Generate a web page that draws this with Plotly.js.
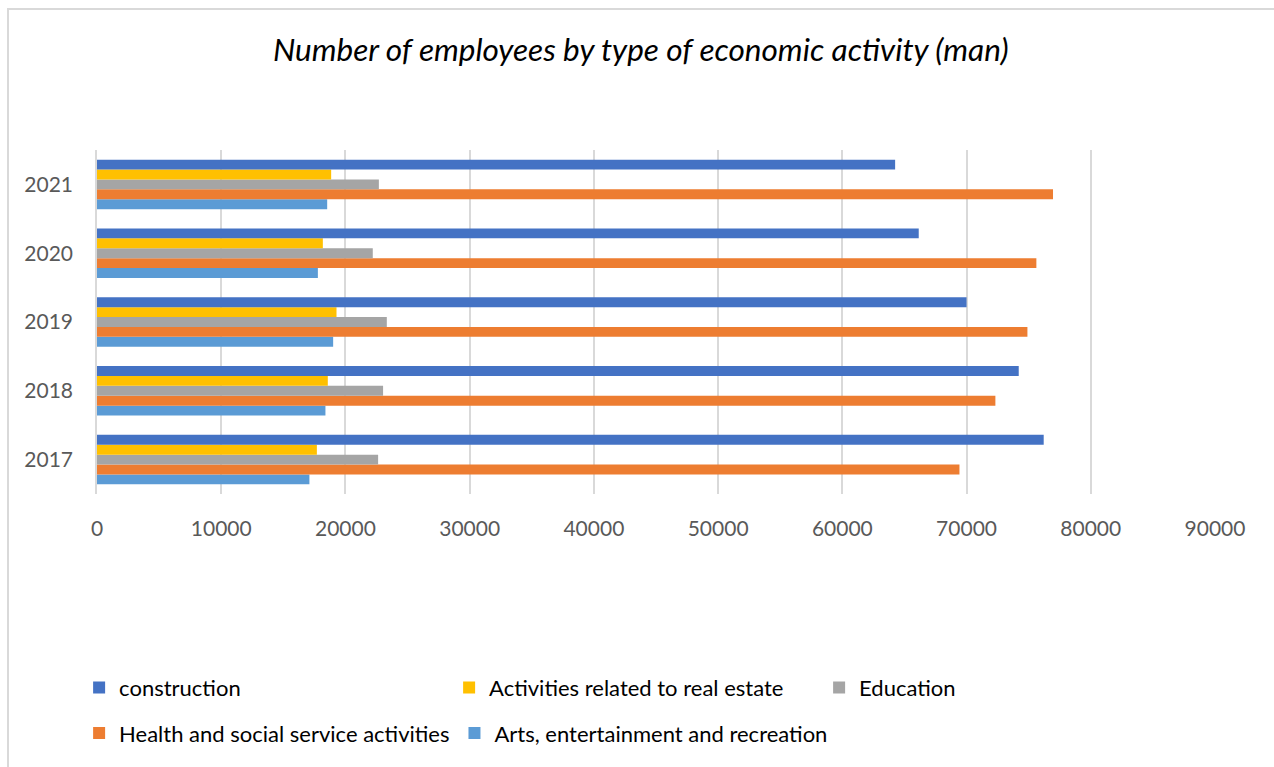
<!DOCTYPE html>
<html>
<head>
<meta charset="utf-8">
<script src="https://cdn.plot.ly/plotly-3.0.1.min.js"></script>
<style>
  html, body { margin: 0; padding: 0; background: #fff; }
  #frame { position: absolute; left: 7px; top: 8px; width: 1267px; height: 759px; border-left: 2px solid #d9d9d9; border-top: 2px solid #d9d9d9; box-sizing: border-box; pointer-events: none; }
  #chart { position: absolute; left: 0; top: 0; width: 1274px; height: 767px; }
</style>
</head>
<body>
<div id="chart"></div>
<div id="frame"></div>
<script>
const years = ['2017', '2018', '2019', '2020', '2021'];
const construction = [76210, 74200, 70000, 66150, 64250];
const realEstate   = [17700, 18580, 19280, 18180, 18850];
const education    = [22630, 23030, 23330, 22200, 22690];
const health       = [69430, 72320, 74900, 75620, 76960];
const arts         = [17100, 18390, 19010, 17780, 18530];

const seriesNames = ['construction', 'Activities related to real estate', 'Education',
                     'Health and social service activities', 'Arts, entertainment and recreation'];
const colors = ['#4472C4', '#FFC000', '#A5A5A5', '#ED7D31', '#5B9BD5'];
const seriesVals = [construction, realEstate, education, health, arts];
const legendOf = ['legend', 'legend', 'legend', 'legend2', 'legend2'];

const FONT = 'Lato, "Liberation Sans", sans-serif';

// Plotly draws the first trace at the bottom of each group; add in reverse order.
const traces = [];
for (let i = seriesNames.length - 1; i >= 0; i--) {
  traces.push({
    type: 'bar',
    orientation: 'h',
    name: seriesNames[i],
    y: years,
    x: seriesVals[i],
    marker: { color: colors[i], line: { width: 0 } },
    legend: legendOf[i],
    legendrank: i + 1,
    hoverinfo: 'x+name'
  });
}

const legendCommon = {
  orientation: 'h',
  xanchor: 'left',
  yanchor: 'middle',
  x: -0.016,
  font: { family: FONT, size: 22, color: '#000000' },
  bgcolor: 'rgba(0,0,0,0)',
  traceorder: 'normal'
};

const layout = {
  width: 1274,
  height: 767,
  paper_bgcolor: 'rgba(0,0,0,0)',
  plot_bgcolor: '#ffffff',
  margin: { l: 97, r: 59, t: 150, b: 269, pad: 0 },
  title: {
    text: 'Number of employees by type of economic activity (man)',
    font: { family: FONT, size: 31.5, color: '#000000', style: 'italic' },
    x: 0.503, xref: 'container', xanchor: 'center',
    y: 1 - 50 / 767, yref: 'container', yanchor: 'middle'
  },
  barmode: 'group',
  bargap: 0.28,
  bargroupgap: 0,
  xaxis: {
    range: [0, 90000],
    dtick: 10000,
    tick0: 0,
    showgrid: true,
    gridcolor: '#d9d9d9',
    gridwidth: 1.5,
    zeroline: false,
    showline: false,
    ticks: '',
    tickformat: 'd',
    tickfont: { family: FONT, size: 21, color: '#595959' },
    ticklabelstandoff: 20,
    fixedrange: true
  },
  yaxis: {
    type: 'category',
    categoryorder: 'array',
    categoryarray: years,
    showgrid: false,
    zeroline: false,
    showline: true,
    linecolor: '#d9d9d9',
    linewidth: 1.5,
    ticks: '',
    tickfont: { family: FONT, size: 21, color: '#595959' },
    ticklabelstandoff: 18,
    fixedrange: true
  },
  legend: Object.assign({}, legendCommon, {
    y: (498 - 694) / 348, entrywidth: 325, entrywidthmode: 'pixels'
  }),
  legend2: Object.assign({}, legendCommon, { y: (498 - 740) / 348 }),
  showlegend: true
};

Plotly.newPlot('chart', traces, layout, { displayModeBar: false, staticPlot: false });
</script>
</body>
</html>
